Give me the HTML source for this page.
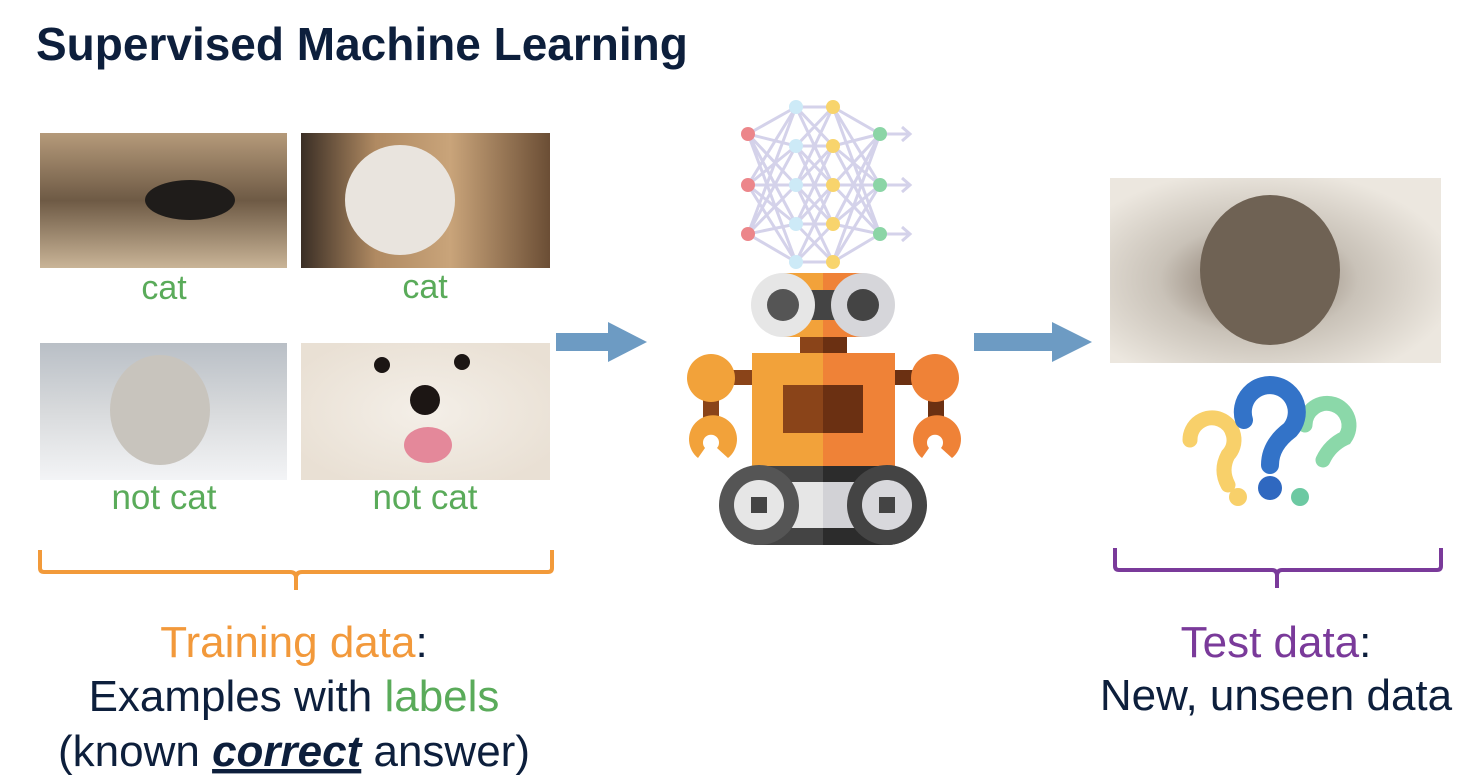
<!DOCTYPE html>
<html><head><meta charset="utf-8"><style>
html,body{margin:0;padding:0;background:#fff;}
svg{display:block;font-family:"Liberation Sans",Arial,sans-serif;}
</style></head><body>
<svg width="1484" height="778" viewBox="0 0 1484 778" xmlns="http://www.w3.org/2000/svg">
<defs>
<linearGradient id="g1" x1="0" y1="0" x2="0" y2="1"><stop offset="0" stop-color="#b59a7a"/><stop offset="0.5" stop-color="#6e5a45"/><stop offset="1" stop-color="#c9b497"/></linearGradient>
<linearGradient id="g2" x1="0" y1="0" x2="1" y2="0"><stop offset="0" stop-color="#3a2e25"/><stop offset="0.3" stop-color="#b08a62"/><stop offset="0.6" stop-color="#c9a47a"/><stop offset="1" stop-color="#6b4e35"/></linearGradient>
<linearGradient id="g3" x1="0" y1="0" x2="0" y2="1"><stop offset="0" stop-color="#b9bfc6"/><stop offset="0.5" stop-color="#d8dadc"/><stop offset="1" stop-color="#f3f4f6"/></linearGradient>
<radialGradient id="g4" cx="0.5" cy="0.5" r="0.6"><stop offset="0" stop-color="#f4efe8"/><stop offset="1" stop-color="#e9e0d4"/></radialGradient>
<radialGradient id="g5" cx="0.45" cy="0.55" r="0.6"><stop offset="0" stop-color="#7a6a5c"/><stop offset="0.5" stop-color="#c9c2b8"/><stop offset="1" stop-color="#ece7df"/></radialGradient>
</defs>
<text x="36" y="60" font-size="46" font-weight="bold" fill="#0d1f3c">Supervised Machine Learning</text>

<rect x="40" y="133" width="247" height="135" fill="url(#g1)"/>
<ellipse cx="190" cy="200" rx="45" ry="20" fill="#1f1c1a"/>
<rect x="301" y="133" width="249" height="135" fill="url(#g2)"/>
<ellipse cx="400" cy="200" rx="55" ry="55" fill="#e9e4de"/>
<rect x="40" y="343" width="247" height="137" fill="url(#g3)"/>
<ellipse cx="160" cy="410" rx="50" ry="55" fill="#c8c4bd"/>
<rect x="301" y="343" width="249" height="137" fill="url(#g4)"/>
<circle cx="425" cy="400" r="15" fill="#1c1614"/><circle cx="382" cy="365" r="8" fill="#1c1614"/><circle cx="462" cy="362" r="8" fill="#1c1614"/>
<ellipse cx="428" cy="445" rx="24" ry="18" fill="#e4889a"/>
<rect x="1110" y="178" width="331" height="185" fill="url(#g5)"/>
<ellipse cx="1270" cy="270" rx="70" ry="75" fill="#6f6254"/>

<g fill="#5aab5a" text-anchor="middle">
<text x="164" y="299" font-size="34">cat</text><text x="425" y="298" font-size="34">cat</text>
<text x="164" y="509" font-size="35">not cat</text><text x="425" y="509" font-size="35">not cat</text>
</g>

<rect x="556" y="333" width="55" height="18" fill="#6d9bc3"/>
<polygon points="608,322 647,342 608,362" fill="#6d9bc3"/>
<rect x="974" y="333" width="80" height="18" fill="#6d9bc3"/>
<polygon points="1052,322 1092,342 1052,362" fill="#6d9bc3"/>

<g stroke="#d4d2ea" stroke-width="3" fill="none">
<path d="M748,134L796,107M748,134L796,146M748,134L796,185M748,134L796,224M748,185L796,107M748,185L796,146M748,185L796,185M748,185L796,224M748,185L796,262M748,234L796,146M748,234L796,185M748,234L796,224M748,234L796,262M748,134L796,262M748,234L796,107"/>
<path d="M796,107L833,107M796,107L833,146M796,107L833,185M796,146L833,107M796,146L833,146M796,146L833,185M796,146L833,224M796,185L833,146M796,185L833,185M796,185L833,224M796,185L833,107M796,185L833,262M796,224L833,185M796,224L833,224M796,224L833,262M796,224L833,146M796,262L833,262M796,262L833,224M796,262L833,185"/>
<path d="M833,107L880,134M833,107L880,185M833,146L880,134M833,146L880,185M833,146L880,234M833,185L880,134M833,185L880,185M833,185L880,234M833,224L880,134M833,224L880,185M833,224L880,234M833,262L880,185M833,262L880,234M833,107L880,234M833,262L880,134"/>
<path d="M880,134H910M902,127L910,134L902,141M880,185H910M902,178L910,185L902,192M880,234H910M902,227L910,234L902,241"/>
</g>
<g fill="#ec868a"><circle cx="748" cy="134" r="7"/><circle cx="748" cy="185" r="7"/><circle cx="748" cy="234" r="7"/></g>
<g fill="#cdeaf7"><circle cx="796" cy="107" r="7"/><circle cx="796" cy="146" r="7"/><circle cx="796" cy="185" r="7"/><circle cx="796" cy="224" r="7"/><circle cx="796" cy="262" r="7"/></g>
<g fill="#f8d46c"><circle cx="833" cy="107" r="7"/><circle cx="833" cy="146" r="7"/><circle cx="833" cy="185" r="7"/><circle cx="833" cy="224" r="7"/><circle cx="833" cy="262" r="7"/></g>
<g fill="#8bd5a6"><circle cx="880" cy="134" r="7"/><circle cx="880" cy="185" r="7"/><circle cx="880" cy="234" r="7"/></g>

<rect x="783" y="273" width="40" height="64" fill="#f2a23a"/><rect x="823" y="273" width="40" height="64" fill="#ef8237"/>
<rect x="800" y="290" width="46" height="30" fill="#444"/>
<rect x="800" y="337" width="23" height="17" fill="#8a4419"/><rect x="823" y="337" width="24" height="17" fill="#6b3012"/>
<circle cx="783" cy="305" r="32" fill="#e6e6e6"/><circle cx="783" cy="305" r="16" fill="#555"/>
<circle cx="863" cy="305" r="32" fill="#d6d6da"/><circle cx="863" cy="305" r="16" fill="#444"/>
<rect x="719" y="370" width="40" height="15" fill="#8a4419"/><rect x="890" y="370" width="40" height="15" fill="#6b3012"/>
<rect x="703" y="385" width="16" height="35" fill="#8a4419"/><rect x="928" y="385" width="16" height="35" fill="#6b3012"/>
<circle cx="711" cy="378" r="24" fill="#f2a23a"/><circle cx="935" cy="378" r="24" fill="#ef8237"/>
<path d="M698,458 A24,24 0 1 1 728,458 L717,448 A8,8 0 1 0 705,448 Z" fill="#f2a23a"/>
<path d="M922,458 A24,24 0 1 1 952,458 L941,448 A8,8 0 1 0 929,448 Z" fill="#ef8237"/>
<rect x="752" y="353" width="71" height="114" fill="#f2a23a"/><rect x="823" y="353" width="72" height="114" fill="#ef8237"/>
<rect x="783" y="385" width="40" height="48" fill="#8a4419"/><rect x="823" y="385" width="40" height="48" fill="#6b3012"/>
<path d="M759,466 H823 V545 H759 A39.5,39.5 0 0 1 759,466 Z" fill="#444"/>
<path d="M823,466 H887 A39.5,39.5 0 0 1 887,545 H823 Z" fill="#2c2c2c"/>
<rect x="790" y="482" width="33" height="46" fill="#e6e6e6"/><rect x="823" y="482" width="33" height="46" fill="#d2d2d6"/>
<circle cx="759" cy="505" r="40" fill="#555"/><circle cx="759" cy="505" r="25" fill="#e6e6e6"/><rect x="751" y="497" width="16" height="16" fill="#444"/>
<circle cx="887" cy="505" r="40" fill="#444"/><circle cx="887" cy="505" r="25" fill="#d8d8dc"/><rect x="879" y="497" width="16" height="16" fill="#444"/>

<g fill="none" stroke-linecap="round">
<path d="M1190,440 A22,22 0 1 1 1228,455 Q1220,470 1228,485" stroke="#f8d06a" stroke-width="15"/>
<path d="M1323,460 Q1330,445 1345,438 A22,22 0 1 0 1305,425" stroke="#8bd8a9" stroke-width="15"/>
<path d="M1244,420 A27,27 0 1 1 1290,430 Q1270,445 1270,465" stroke="#3373c8" stroke-width="18"/>
</g>
<circle cx="1238" cy="497" r="9" fill="#f8d06a"/>
<circle cx="1270" cy="488" r="12" fill="#2f68c0"/>
<circle cx="1300" cy="497" r="9" fill="#6cc9a2"/>

<path d="M40,550 V568 Q40,572 44,572 H290 Q296,572 296,578 V590 M296,578 Q296,572 302,572 H548 Q552,572 552,568 V550" fill="none" stroke="#f29a3a" stroke-width="4"/>
<path d="M1115,548 V566 Q1115,570 1119,570 H1272 Q1277,570 1277,576 V588 M1277,576 Q1277,570 1282,570 H1437 Q1441,570 1441,566 V548" fill="none" stroke="#7a3a9a" stroke-width="4"/>

<g font-size="44" text-anchor="middle" fill="#0d1f3c">
<text x="294" y="657"><tspan fill="#f2993b">Training data</tspan>:</text>
<text x="294" y="711">Examples with <tspan fill="#5aab5a">labels</tspan></text>
<text x="294" y="766">(known <tspan font-weight="bold" font-style="italic" text-decoration="underline">correct</tspan> answer)</text>
<text x="1276" y="657"><tspan fill="#7a3a9a">Test data</tspan>:</text>
<text x="1276" y="710">New, unseen data</text>
</g>
</svg>
</body></html>
